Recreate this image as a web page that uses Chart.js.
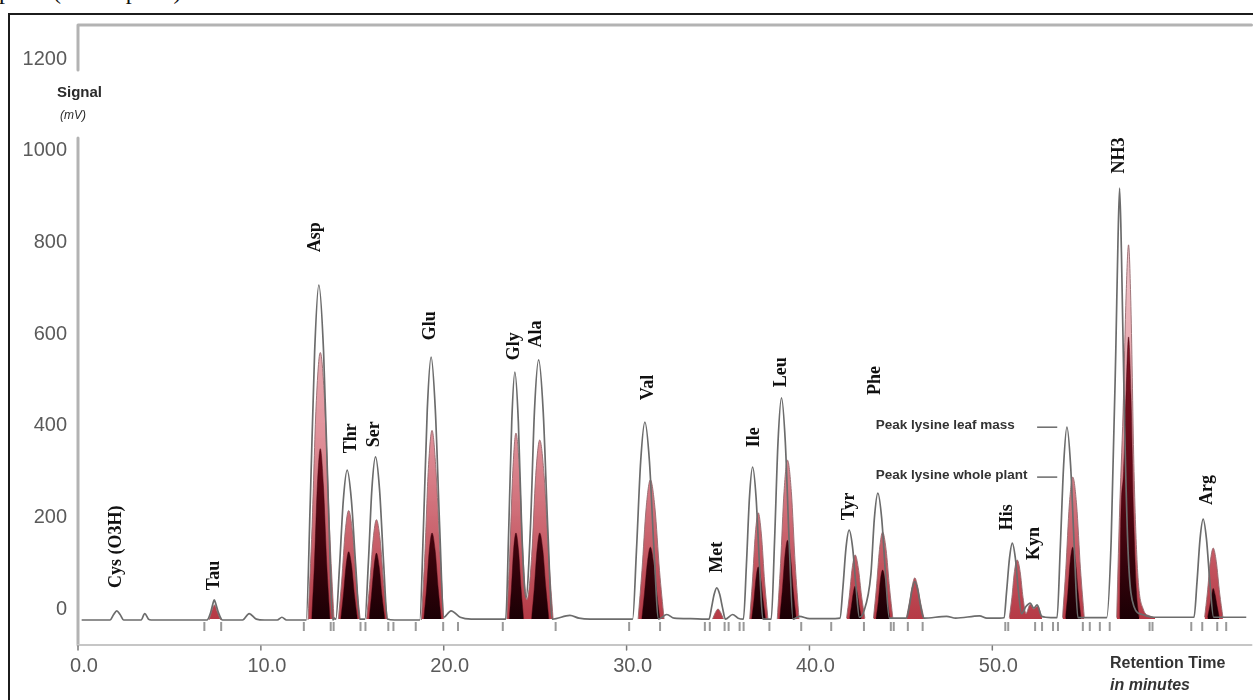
<!DOCTYPE html>
<html>
<head>
<meta charset="utf-8">
<script src="https://cdn.jsdelivr.net/npm/chart.js@4"></script>
<style>
  body { margin: 0; background: #fff; width: 1253px; height: 700px; overflow: hidden; position: relative; }
  #frame { position: absolute; left: 8px; top: 13px; width: 1270px; height: 720px; border: 2px solid #1c1c1c; box-sizing: border-box; }
  #cut { position: absolute; left: -1px; top: -21px; font: 24px "Liberation Serif", "Times New Roman", serif; line-height: 24px; color: #111; white-space: nowrap; }
  #chart { position: absolute; left: 0; top: 0; }
</style>
</head>
<body>
<div id="cut">plant (whole plant)</div>
<div id="frame"></div>
<canvas id="chart" width="1253" height="700"></canvas>
<script>
// ticks
const xTicks = [0, 10, 20, 30, 40, 50]
const yTicks = [0, 200, 400, 600, 800, 1000, 1200]

// peak labels: name, retention time, signal level where the label starts
const peakNames = ['Cys (O3H)', 'Tau', 'Asp', 'Thr', 'Ser', 'Glu', 'Gly', 'Ala', 'Val', 'Met', 'Ile', 'Leu', 'Tyr', 'Phe', 'His', 'Kyn', 'NH3', 'Arg']
const peakTimes = [2.12, 7.45, 13.0, 14.96, 16.21, 19.26, 23.88, 25.08, 31.18, 34.98, 37.0, 38.47, 42.17, 43.63, 50.82, 52.29, 56.96, 61.75]
const labelLevels = [46, 41, 779, 340, 353, 587, 543, 571, 456, 79, 353, 484, 194, 467, 172, 107, 951, 227]

// lysine notes
const lysineNotes = ['Peak lysine leaf mass', 'Peak lysine whole plant']
const lysineLevels = [397, 288]

// leaf mass trace (grey outline) [min, mV]
const leafMass = [
  [0.2,-24],[1.75,-24],[1.95,-12],[2.12,-4],[2.3,-12],[2.5,-24],
  [3.45,-24],[3.65,-10],[3.85,-22],[4.0,-24],
  [7.05,-24],[7.25,-8],[7.38,12],[7.45,20],[7.53,12],[7.68,-8],[7.9,-24],
  [9.0,-24],[9.36,-10],[9.75,-22],[10.2,-24],[10.9,-24],[11.15,-18],[11.4,-24],
  [12.48,-24],[12.7,232],[12.94,561],[13.17,707],[13.43,561],[13.69,232],[13.94,-24],[14.02,-20],
  [14.1,-22],[14.3,92],[14.51,238],[14.72,303],[14.95,238],[15.19,92],[15.41,-22],
  [15.69,-22],[15.88,102],[16.07,261],[16.27,332],[16.49,261],[16.71,102],[16.92,-22],[17.3,-24],[18.4,-24],
  [18.69,-24],[18.89,177],[19.1,435],[19.31,550],[19.54,435],[19.78,177],[20.0,-18],[20.4,-4],[20.9,-18],[21.5,-22],[23.2,-22],
  [23.39,-22],[23.55,167],[23.72,409],[23.89,517],[24.08,409],[24.27,167],[24.5,25],
  [24.74,176],[24.96,431],[25.19,544],[25.44,431],[25.69,176],[25.94,-22],[26.9,-14],[27.4,-20],[28.0,-22],[30.1,-22],
  [30.33,-22],[30.54,128],[30.77,322],[31.0,408],[31.25,322],[31.5,128],[31.75,-22],[32.2,-12],[32.6,-20],[33.5,-21],[34.3,-22],
  [34.51,-22],[34.64,2],[34.79,32],[34.93,46],[35.09,32],[35.25,2],[35.4,-22],[35.8,-12],[36.1,-20],
  [36.39,-22],[36.55,94],[36.72,244],[36.89,310],[37.08,244],[37.27,94],[37.45,-22],
  [37.91,-22],[38.09,147],[38.28,364],[38.47,461],[38.68,364],[38.89,147],[39.1,-22],[39.45,-16],[40.0,-21],[41.4,-21],
  [41.67,-20],[41.83,47],[42.0,134],[42.17,172],[42.36,134],[42.55,47],[42.73,-18],[42.95,-8],
  [43.36,76],[43.55,198],[43.74,253],[43.95,198],[44.16,76],[44.37,-20],
  [45.3,-20],[45.47,8],[45.62,44],[45.76,60],[45.91,44],[46.07,8],[46.26,-20],[47.5,-16],[48.0,-20],[49.3,-15],[49.7,-20],[50.4,-20],
  [50.64,-19],[50.78,38],[50.94,111],[51.09,144],[51.26,111],[51.43,38],[51.6,-10],[51.85,6],[52.07,13],[52.27,2],[52.45,9],[52.7,-16],[53.2,-19],
  [53.54,-19],[53.71,127],[53.9,314],[54.08,397],[54.28,314],[54.49,127],[54.68,-19],[56.1,-19],
  [56.25,-19],[56.5,150],[56.75,560],[56.87,800],[56.96,919],[57.06,780],[57.22,430],[57.42,130],[57.75,5],[58.2,-12],[58.8,-18],[60.9,-18],
  [61.03,-18],[61.19,57],[61.36,153],[61.53,196],[61.71,153],[61.9,57],[62.1,-18],[63.9,-18]
]

// whole plant trace (red fill), gaps between peaks
const wholePlant = [
  [7.17,-24],[7.3,-6],[7.47,9],[7.62,-6],[7.8,-24],[8,null],
  [12.58,-24],[12.8,180],[13.02,443],[13.25,560],[13.5,443],[13.75,180],[14.0,-24],[14.1,null],
  [14.24,-22],[14.42,61],[14.61,168],[14.8,215],[15.01,168],[15.22,61],[15.43,-22],[15.6,null],
  [15.78,-22],[15.95,54],[16.14,152],[16.32,195],[16.52,152],[16.72,54],[16.92,-22],[17.1,null],
  [18.78,-24],[18.97,121],[19.16,307],[19.36,390],[19.57,307],[19.8,121],[20.0,-22],[20.2,null],
  [23.45,-22],[23.61,120],[23.78,303],[23.95,384],[24.14,303],[24.33,120],[24.55,20],[24.81,115],[25.03,291],[25.25,369],[25.49,291],[25.74,115],[25.98,-22],[26.1,null],
  [30.63,-22],[30.84,84],[31.07,221],[31.3,282],[31.55,221],[31.8,84],[32.05,-22],[32.2,null],
  [34.7,-22],[34.85,-8],[35.0,0],[35.15,-8],[35.3,-22],[35.5,null],
  [36.73,-22],[36.88,59],[37.04,164],[37.2,210],[37.37,164],[37.55,59],[37.73,-22],[37.9,null],
  [38.24,-22],[38.42,99],[38.61,256],[38.8,325],[39.01,256],[39.22,99],[39.43,-22],[39.6,null],
  [42.03,-20],[42.18,28],[42.34,90],[42.5,118],[42.67,90],[42.85,28],[43.03,-20],[43.2,null],
  [43.5,-20],[43.66,46],[43.83,130],[44.0,168],[44.19,130],[44.38,46],[44.56,-20],[44.8,null],
  [45.3,-20],[45.47,15],[45.62,50],[45.76,68],[45.91,50],[46.07,15],[46.26,-20],[46.5,null],
  [50.93,-19],[51.07,25],[51.21,82],[51.36,107],[51.52,82],[51.68,25],[51.84,-10],[52.07,10],[52.27,0],[52.47,6],[52.72,-19],[53,null],
  [53.84,-19],[54.02,88],[54.21,227],[54.4,288],[54.61,227],[54.82,88],[55.03,-19],[55.5,null],
  [56.8,-19],[56.95,200],[57.15,430],[57.32,690],[57.45,795],[57.58,660],[57.75,300],[57.95,80],[58.25,0],[58.6,-15],[58.9,-19],[59.5,null],
  [61.61,-18],[61.76,35],[61.92,103],[62.08,133],[62.25,103],[62.43,35],[62.61,-18]
]

// dark core of the whole plant peaks
const plantCore = [
  [12.78,-22],[12.93,100],[13.09,270],[13.25,350],[13.42,270],[13.6,100],[13.78,-22],[14,null],
  [14.37,-22],[14.51,30],[14.66,95],[14.8,125],[14.96,95],[15.12,30],[15.28,-22],[15.5,null],
  [15.92,-22],[16.05,30],[16.19,92],[16.32,122],[16.47,92],[16.62,30],[16.78,-22],[17,null],
  [18.91,-22],[19.06,44],[19.21,128],[19.36,166],[19.53,128],[19.7,44],[19.86,-22],[20,null],
  [23.58,-22],[23.7,44],[23.82,128],[23.95,166],[24.09,128],[24.23,44],[24.37,-22],[24.5,null],
  [24.8,-22],[24.95,44],[25.1,128],[25.25,166],[25.42,128],[25.59,44],[25.75,-22],[26,null],
  [30.83,-22],[30.98,35],[31.14,103],[31.3,135],[31.47,103],[31.65,35],[31.82,-22],[32,null],
  [36.84,-22],[36.96,18],[37.08,68],[37.2,92],[37.33,68],[37.47,18],[37.6,-22],[37.8,null],
  [38.37,-22],[38.51,38],[38.66,116],[38.8,150],[38.96,116],[39.12,38],[39.28,-22],[39.5,null],
  [42.19,-20],[42.29,5],[42.4,36],[42.5,50],[42.61,36],[42.73,5],[42.84,-20],[43,null],
  [43.64,-20],[43.76,15],[43.88,64],[44.0,85],[44.13,64],[44.27,15],[44.4,-20],[44.6,null],
  [54.0,-19],[54.13,35],[54.26,104],[54.4,135],[54.55,104],[54.7,35],[54.85,-19],[55,null],
  [56.97,-19],[57.02,180],[57.18,300],[57.32,480],[57.45,594],[57.58,470],[57.73,200],[57.88,40],[58.03,-19],[58.3,null],
  [61.77,-18],[61.89,5],[62.0,32],[62.08,45],[62.18,32],[62.3,5],[62.41,-18]
]

// integration marks under the baseline
const markTimes = [6.91, 7.83, 12.35, 13.82, 13.98, 15.45, 15.72, 16.97, 17.25, 18.47, 19.97, 20.78, 23.23, 26.12, 30.14, 31.83,
  34.28, 34.55, 35.36, 35.58, 36.18, 36.4, 37.81, 39.55, 41.19, 42.98, 44.45, 44.61, 45.38, 46.19, 50.71, 50.87,
  52.34, 52.72, 53.32, 53.59, 54.95, 55.33, 55.88, 56.42, 58.6, 58.76, 60.88, 61.48, 62.3, 62.79]
const markLevel = -38

const toXY = arr => arr.map(p => ({ x: p[0], y: p[1] }))

function vGrad(chart, stops, fallback) {
    const { ctx, chartArea, scales } = chart
    if (!chartArea) return fallback
    const g = ctx.createLinearGradient(0, scales.y.getPixelForValue(800), 0, scales.y.getPixelForValue(-20))
    stops.forEach(s => g.addColorStop(s[0], s[1]))
    return g
}

const serif = '"Liberation Serif", "Times New Roman", serif'
const sans = '"Liberation Sans", Arial, sans-serif'

// axes frame, labels and notes
const decor = {
    id: 'decor',
    beforeDatasetsDraw(chart) {
        const { ctx, chartArea: a, scales } = chart
        ctx.save()
        ctx.lineCap = 'round'
        ctx.lineJoin = 'round'
        ctx.strokeStyle = '#b3b3b3'
        ctx.lineWidth = 3
        ctx.beginPath()
        ctx.moveTo(a.left, a.top + 45)
        ctx.lineTo(a.left, a.top)
        ctx.lineTo(a.right + 5, a.top)
        ctx.moveTo(a.left, a.top + 113)
        ctx.lineTo(a.left, a.bottom)
        ctx.stroke()
        ctx.strokeStyle = '#c6c6c6'
        ctx.lineWidth = 2
        ctx.beginPath()
        ctx.moveTo(a.left, a.bottom)
        ctx.lineTo(a.right + 5, a.bottom)
        ctx.stroke()
        ctx.strokeStyle = '#7a7a7a'
        ctx.lineWidth = 1.5
        xTicks.forEach(t => {
            const x = scales.x.getPixelForValue(t)
            ctx.beginPath()
            ctx.moveTo(x, a.bottom + 1)
            ctx.lineTo(x, a.bottom + 5)
            ctx.stroke()
        })
        ctx.restore()
    },
    afterDatasetsDraw(chart) {
        const { ctx, scales } = chart
        ctx.save()
        // peak names
        ctx.fillStyle = '#111'
        ctx.font = 'bold 18px ' + serif
        ctx.textAlign = 'left'
        ctx.textBaseline = 'middle'
        peakNames.forEach((name, i) => {
            ctx.save()
            ctx.translate(scales.x.getPixelForValue(peakTimes[i]), scales.y.getPixelForValue(labelLevels[i]))
            ctx.rotate(-Math.PI / 2)
            ctx.fillText(name, 0, 0)
            ctx.restore()
        })
        // lysine notes
        ctx.font = 'bold 13.5px ' + sans
        ctx.fillStyle = '#333'
        ctx.strokeStyle = '#444'
        ctx.lineWidth = 1.2
        lysineNotes.forEach((txt, i) => {
            const y = scales.y.getPixelForValue(lysineLevels[i])
            ctx.fillText(txt, scales.x.getPixelForValue(43.63), y - 2)
            ctx.beginPath()
            ctx.moveTo(scales.x.getPixelForValue(52.45), y)
            ctx.lineTo(scales.x.getPixelForValue(53.55), y)
            ctx.stroke()
        })
        // axis titles
        ctx.fillStyle = '#2a2a2a'
        ctx.font = 'bold 15px ' + sans
        ctx.fillText('Signal', 57, 93)
        ctx.font = 'italic 12px ' + sans
        ctx.fillText('(mV)', 60, 116)
        ctx.font = 'bold 16px ' + sans
        ctx.fillStyle = '#333'
        ctx.fillText('Retention Time', 1110, 664)
        ctx.font = 'italic bold 16px ' + sans
        ctx.fillText('in minutes', 1110, 686)
        ctx.restore()
    }
}

new Chart(document.getElementById('chart').getContext('2d'), {
    type: 'line',
    data: {
        datasets: [{
            label: 'Leaf mass',
            data: toXY(leafMass),
            borderColor: '#6c6c6c',
            borderWidth: 1.7,
            pointRadius: 0,
            fill: false,
            cubicInterpolationMode: 'monotone',
            order: 0
        }, {
            label: 'Core',
            data: toXY(plantCore),
            borderColor: 'rgba(60,0,10,0.6)',
            borderWidth: 0.8,
            pointRadius: 0,
            spanGaps: false,
            fill: { value: -22 },
            backgroundColor: ctx => vGrad(ctx.chart, [[0, 'rgb(150,28,42)'], [0.6, 'rgb(100,8,22)'], [1, 'rgb(28,0,5)']], 'rgb(90,5,18)'),
            cubicInterpolationMode: 'monotone',
            order: 1
        }, {
            label: 'Whole plant',
            data: toXY(wholePlant),
            borderColor: 'rgba(150,105,110,0.9)',
            borderWidth: 1,
            pointRadius: 0,
            spanGaps: false,
            fill: { value: -22 },
            backgroundColor: ctx => vGrad(ctx.chart, [[0, 'rgba(238,190,195,0.85)'], [0.5, 'rgba(222,135,145,0.9)'], [1, 'rgba(178,48,60,0.95)']], 'rgba(215,120,130,0.9)'),
            cubicInterpolationMode: 'monotone',
            order: 2
        }, {
            label: 'Marks',
            data: markTimes.map(t => ({ x: t, y: markLevel })),
            showLine: false,
            pointStyle: 'line',
            rotation: 90,
            pointRadius: 4.5,
            pointBorderWidth: 2,
            pointBorderColor: '#999',
            order: 3
        }]
    },
    options: {
        responsive: false,
        animation: false,
        layout: { padding: { top: 25, left: 0, right: 0, bottom: 0 } },
        plugins: {
            legend: { display: false },
            tooltip: { enabled: false }
        },
        scales: {
            x: {
                type: 'linear',
                min: 0,
                max: 63.9,
                grid: { display: false, drawTicks: false },
                border: { display: false },
                afterBuildTicks: s => { s.ticks = xTicks.map(v => ({ value: v })) },
                afterFit: s => { s.height = 55 },
                ticks: {
                    callback: v => v.toFixed(1),
                    color: '#5a5a5a',
                    font: { family: sans, size: 20 },
                    padding: 9,
                    labelOffset: 6,
                    maxRotation: 0
                }
            },
            y: {
                type: 'linear',
                min: -78.6,
                max: 1275,
                grid: { display: false, drawTicks: false },
                border: { display: false },
                afterBuildTicks: s => { s.ticks = yTicks.map(v => ({ value: v })) },
                afterFit: s => { s.width = 78 },
                ticks: {
                    callback: v => String(v),
                    color: '#5a5a5a',
                    font: { family: sans, size: 20 },
                    padding: 11
                }
            }
        }
    },
    plugins: [decor]
});
</script>
</body>
</html>
